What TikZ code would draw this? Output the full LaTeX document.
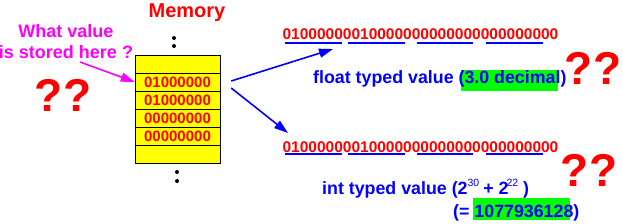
\documentclass[tikz,border=0pt]{standalone}
\usepackage{fontspec}
\setmainfont{Liberation Sans}
\usetikzlibrary{arrows.meta}
\definecolor{mag}{RGB}{255,0,255}
\definecolor{yel}{RGB}{255,255,0}
\definecolor{grn}{RGB}{0,255,0}
\newcommand{\fsz}[1]{\fontsize{#1}{#1}\selectfont}
\newcommand{\pw}[1]{\raisebox{7.5pt}{\fsz{10.5}\mdseries #1}}

\begin{document}
\begin{tikzpicture}[x=1pt,y=-1pt,
  cell/.style={draw,fill=yel,minimum width=85pt,minimum height=18pt,inner sep=0pt,text=red,font=\fsz{15}\bfseries},
  bits/.style={red,inner sep=0pt,font=\fsz{15.5}\bfseries},
  txt/.style={blue,inner sep=0pt,anchor=base west,font=\fsz{17.8}\bfseries},
  qmark/.style={red,inner sep=0pt,font=\fsz{46}\bfseries},
  ptr/.style={line width=1.6pt,-{Triangle[length=14pt,width=9pt]}}]
\useasboundingbox (0,0) rectangle (623,223);
% memory column
\node[red,anchor=base,inner sep=0pt,font=\fsz{20}\bfseries] (title) at (187,17) {Memory};
\foreach \i/\v in {1/,2/01000000,3/01000000,4/00000000,5/00000000,6/}{
  \node[cell] (cell\i) at (177.5,46+18*\i) {\v};
}
\foreach \p in {(174,38),(174,46),(177,172),(177,181)}{\fill \p circle (2);}
% question on the left
\node[mag,align=center,inner sep=0pt,anchor=base,font=\fontsize{18}{21}\selectfont\bfseries] (ask) at (66,58) {What value\\is stored here ?};
\coordinate (askfrom) at (80,62);
\draw[ptr,mag] (askfrom) -- (cell2.west);
\node[qmark] (q1) at (63,95) {??};
% the two readings
\node[bits] (bits1) at (420.5,34) {01000000010000000000000000000000};
\node[bits] (bits2) at (420.5,147) {01000000010000000000000000000000};
\foreach \y in {43,154}{
  \foreach \a/\b in {285/342,348/405,417/473,486/543}{\draw[blue,line width=1.2pt] (\a,\y) -- (\b,\y);}
}
\coordinate (toflt) at (333,49);
\coordinate (toint) at (288,133);
\draw[ptr,blue] ([xshift=11pt,yshift=1pt]cell2.east) -- (toflt);
\draw[ptr,blue] ([xshift=11pt,yshift=-6pt]cell2.east) -- (toint);
\fill[grn] (461,70) rectangle (558,91);
\fill[grn] (473,198) rectangle (570,220);
\node[txt] (flt) at (313,83) {float typed value (3.0 decimal)};
\node[qmark] (q2) at (593,68) {??};
\node[txt] (int) at (322,194) {int typed value (2\pw{30}\kern4pt + 2\kern-2pt\pw{22}\kern5pt )};
\node[txt] (dec) at (453,217) {(= 1077936128)};
\node[qmark] (q3) at (589,170) {??};
\end{tikzpicture}
\end{document}
